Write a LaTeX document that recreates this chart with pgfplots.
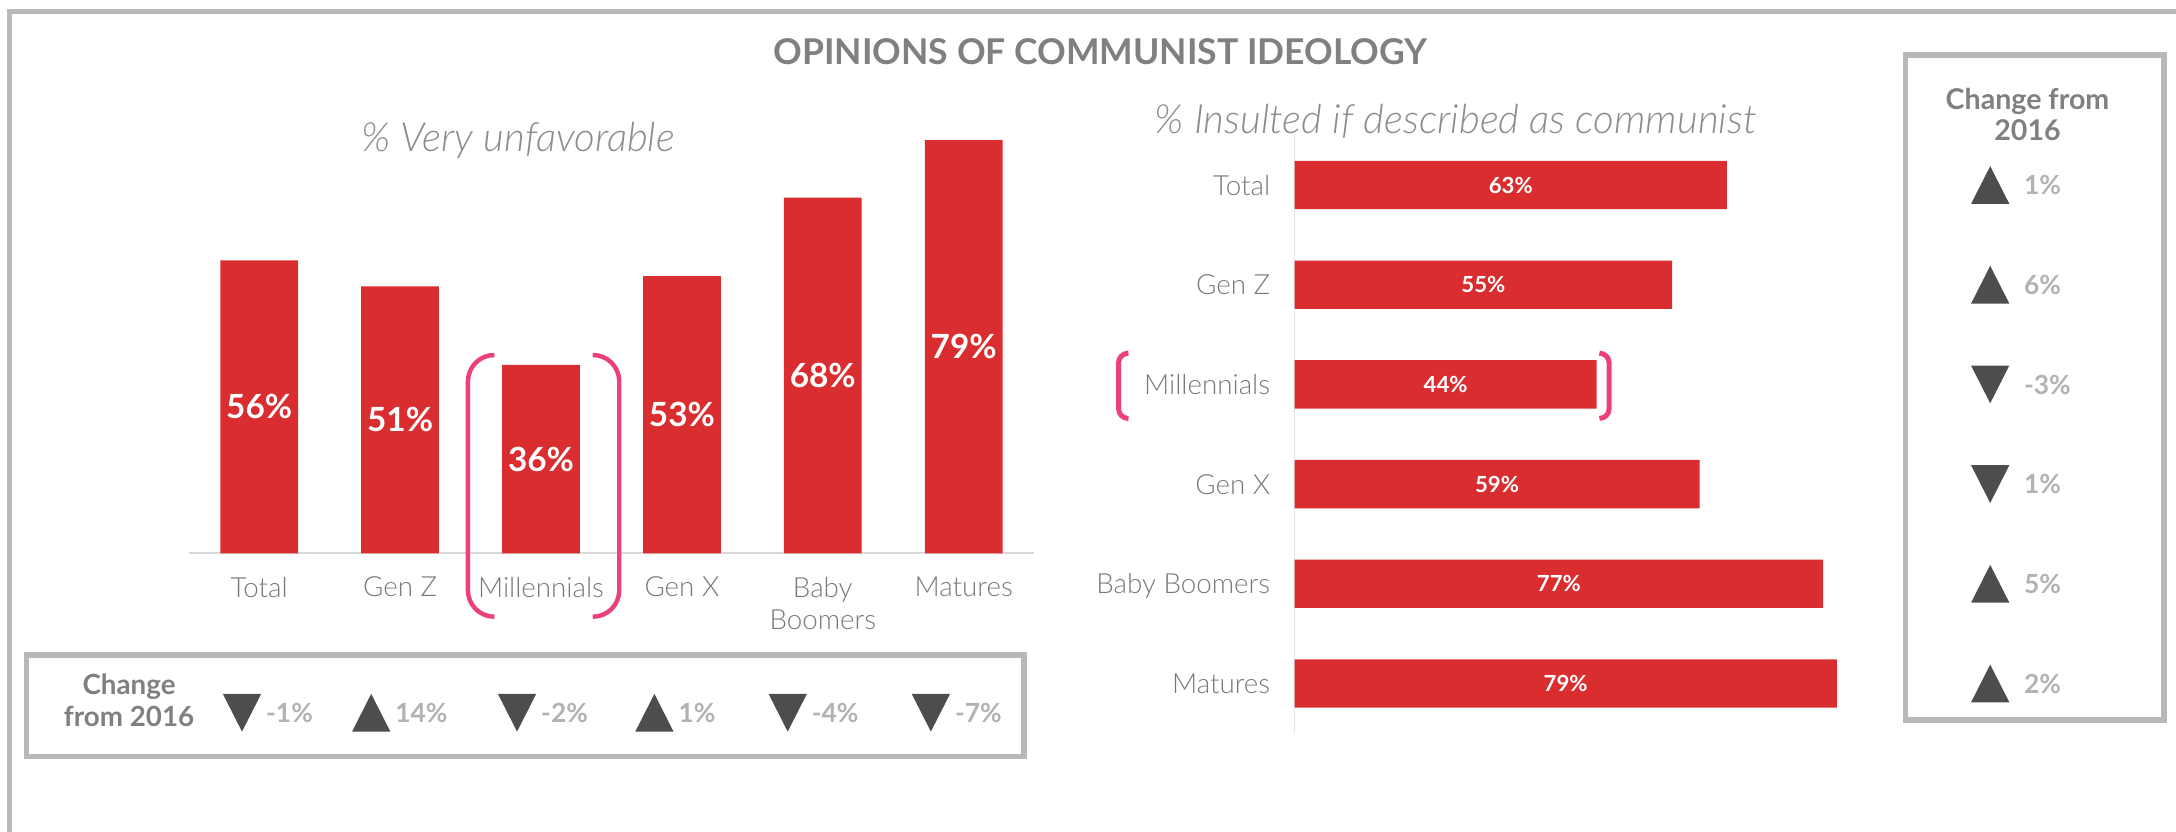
\documentclass[border=0pt]{standalone}
\usepackage{fontspec}
\setmainfont{Lato}
\newfontfamily\lightfont{Lato Light}
\usepackage{pgfplots}
\usepackage{pgfplotstable}
\pgfplotsset{compat=1.18}

\definecolor{barred}{RGB}{217,45,47}
\definecolor{pinkb}{RGB}{236,64,122}
\definecolor{titlegray}{RGB}{128,128,128}
\definecolor{labgray}{RGB}{120,120,120}
\definecolor{subgray}{RGB}{140,140,140}
\definecolor{boxgray}{RGB}{184,184,184}
\definecolor{trigray}{RGB}{77,77,77}
\definecolor{chggray}{RGB}{178,178,178}
\definecolor{axisgray}{RGB}{217,217,217}

\pgfdeclareplotmark{triup}{%
  \pgfpathmoveto{\pgfqpoint{-6.9pt}{-6.8pt}}%
  \pgfpathlineto{\pgfqpoint{6.9pt}{-6.8pt}}%
  \pgfpathlineto{\pgfqpoint{0pt}{6.8pt}}%
  \pgfpathclose\pgfusepathqfill}
\pgfdeclareplotmark{tridown}{%
  \pgfpathmoveto{\pgfqpoint{-6.9pt}{6.8pt}}%
  \pgfpathlineto{\pgfqpoint{6.9pt}{6.8pt}}%
  \pgfpathlineto{\pgfqpoint{0pt}{-6.8pt}}%
  \pgfpathclose\pgfusepathqfill}

% left chart: % very unfavorable, change from 2016
\pgfplotstableread{
x v tx dir chg
0 56 -0.122 d -1
1 51 0.795 u 14
2 36 1.83 d -2
3 53 2.805 u 1
4 68 3.751 d -4
5 79 4.767 d -7
}\leftdata

% right chart: % insulted if described as communist, change from 2016
\pgfplotstableread{
y v dir chg
0 63 u 1
1 55 u 6
2 44 d -3
3 59 d 1
4 77 u 5
5 79 u 2
}\rightdata

\begin{document}
\begin{tikzpicture}[x=0.5pt, y=-0.5pt]

% outer frame
\draw[boxgray, line width=1.6pt] (1650,8.4) -- (6.8,8.4) -- (6.8,660);

% title
\node[anchor=base, font=\bfseries\fontsize{12.8}{15}\selectfont, text=titlegray, inner sep=0pt] at (793,46.8) {OPINIONS OF COMMUNIST IDEOLOGY};

% subtitles
\node[anchor=base, font=\lightfont\itshape\fontsize{14.5}{17}\selectfont, text=subgray, inner sep=0pt] at (373.5,109) {\% Very unfavorable};
\node[anchor=base, font=\lightfont\itshape\fontsize{14.5}{17}\selectfont, text=subgray, inner sep=0pt] at (1049,96) {\% Insulted if described as communist};

% ---------- left bar chart ----------
\begin{axis}[
  at={(68pt,-199.35pt)}, anchor=south west,
  scale only axis, width=304.6pt, height=150.8pt,
  xmin=-0.5, xmax=5.5, ymin=0, ymax=80,
  axis x line*=bottom, axis y line=none,
  x axis line style={draw=axisgray, line width=0.8pt, -},
  xtick={0,1,2,3,4,5},
  xticklabels={Total,Gen Z,Millennials,Gen X,{Baby\\Boomers},Matures},
  xticklabel style={font=\lightfont\fontsize{10}{11.75}\selectfont, text=labgray, align=center, anchor=north, yshift=-5pt},
  major tick length=0pt, ytick=\empty,
  clip=false,
]
\addplot[ybar, bar width=0.552, fill=barred, draw=none] table[x=x, y=v] {\leftdata};
\addplot[draw=none, mark=none, point meta=explicit symbolic,
  nodes near coords={\pgfplotspointmeta\%},
  every node near coord/.append style={anchor=center, font=\bfseries\fontsize{12}{14}\selectfont, text=white}]
  table[x=x, y expr=\thisrow{v}/2, meta=v] {\leftdata};
\end{axis}

% left change strip
\draw[boxgray, line width=2pt] (19.2,472) rectangle (738,545);
\node[anchor=base, font=\bfseries\fontsize{10}{11}\selectfont, text=titlegray, inner sep=0pt] at (93,500.8) {Change};
\node[anchor=base, font=\bfseries\fontsize{10}{11}\selectfont, text=titlegray, inner sep=0pt] at (93,523.6) {from 2016};
\begin{axis}[
  at={(68pt,-266.8pt)}, anchor=south west,
  scale only axis, width=304.6pt, height=20pt,
  xmin=-0.5, xmax=5.5, ymin=-1, ymax=1,
  hide axis, clip=false,
]
\addplot[scatter, only marks, point meta=explicit symbolic,
  scatter/classes={u={mark=triup, trigray}, d={mark=tridown, trigray}}]
  table[x=tx, y expr=0, meta=dir] {\leftdata};
\addplot[draw=none, mark=none, point meta=explicit symbolic,
  nodes near coords={\pgfplotspointmeta\%},
  every node near coord/.append style={anchor=west, xshift=8.5pt, yshift=0pt, inner sep=0pt, text depth=0pt, font=\bfseries\fontsize{9.5}{11}\selectfont, text=chggray}]
  table[x=tx, y expr=0, meta=chg] {\leftdata};
\end{axis}

% ---------- right bar chart ----------
\begin{axis}[
  at={(466.45pt,-264.2pt)}, anchor=south west,
  scale only axis, width=197.8pt, height=215.5pt,
  xmin=0, xmax=80, ymin=-0.5, ymax=5.5, y dir=reverse,
  axis y line*=left, axis x line=none,
  y axis line style={draw=axisgray!70, line width=0.6pt, -},
  ytick={0,1,2,3,4,5},
  yticklabels={Total,Gen Z,Millennials,Gen X,Baby Boomers,Matures},
  yticklabel style={font=\lightfont\fontsize{10}{12}\selectfont, text=labgray, anchor=east, text depth=0pt, xshift=-5.3pt},
  major tick length=0pt, xtick=\empty,
  clip=false,
]
\addplot[xbar, bar width=0.485, fill=barred, draw=none] table[x=v, y=y] {\rightdata};
\addplot[draw=none, mark=none, point meta=explicit symbolic,
  nodes near coords={\pgfplotspointmeta\%},
  every node near coord/.append style={anchor=center, font=\bfseries\fontsize{8}{10}\selectfont, text=white}]
  table[x expr=\thisrow{v}/2, y=y, meta=v] {\rightdata};
\end{axis}

% right change column
\draw[boxgray, line width=2pt] (1373,39.7) rectangle (1559.5,519);
\node[anchor=base, font=\bfseries\fontsize{10.3}{11}\selectfont, text=titlegray, inner sep=0pt] at (1461,78.8) {Change from};
\node[anchor=base, font=\bfseries\fontsize{10.3}{11}\selectfont, text=titlegray, inner sep=0pt] at (1461,101.4) {2016};
\begin{axis}[
  at={(707.05pt,-264.2pt)}, anchor=south west,
  scale only axis, width=20pt, height=215.5pt,
  xmin=-1, xmax=1, ymin=-0.5, ymax=5.5, y dir=reverse,
  hide axis, clip=false,
]
\addplot[scatter, only marks, point meta=explicit symbolic,
  scatter/classes={u={mark=triup, trigray}, d={mark=tridown, trigray}}]
  table[x expr=0, y=y, meta=dir] {\rightdata};
\addplot[draw=none, mark=none, point meta=explicit symbolic,
  nodes near coords={\pgfplotspointmeta\%},
  every node near coord/.append style={anchor=west, xshift=12pt, inner sep=0pt, text depth=0pt, font=\bfseries\fontsize{9.5}{11}\selectfont, text=chggray}]
  table[x expr=0, y=y, meta=chg] {\rightdata};
\end{axis}

% highlight brackets (Millennials)
\draw[pinkb, line width=1.6pt, rounded corners=9.5pt] (355,255.8) -- (337.2,255.8) -- (337.2,444.4) -- (355,444.4);
\draw[pinkb, line width=1.6pt, rounded corners=9.5pt] (428.7,255.8) -- (446.2,255.8) -- (446.2,444.4) -- (428.7,444.4);
\draw[pinkb, line width=1.8pt, rounded corners=3.5pt] (812,254.5) -- (806,254.5) -- (806,301.5) -- (812,301.5);
\draw[pinkb, line width=1.8pt, rounded corners=3.5pt] (1152.5,254.5) -- (1159.5,254.5) -- (1159.5,301.5) -- (1152.5,301.5);

\pgfresetboundingbox
\path[use as bounding box] (0,0) rectangle (1568,599);
\end{tikzpicture}
\end{document}
